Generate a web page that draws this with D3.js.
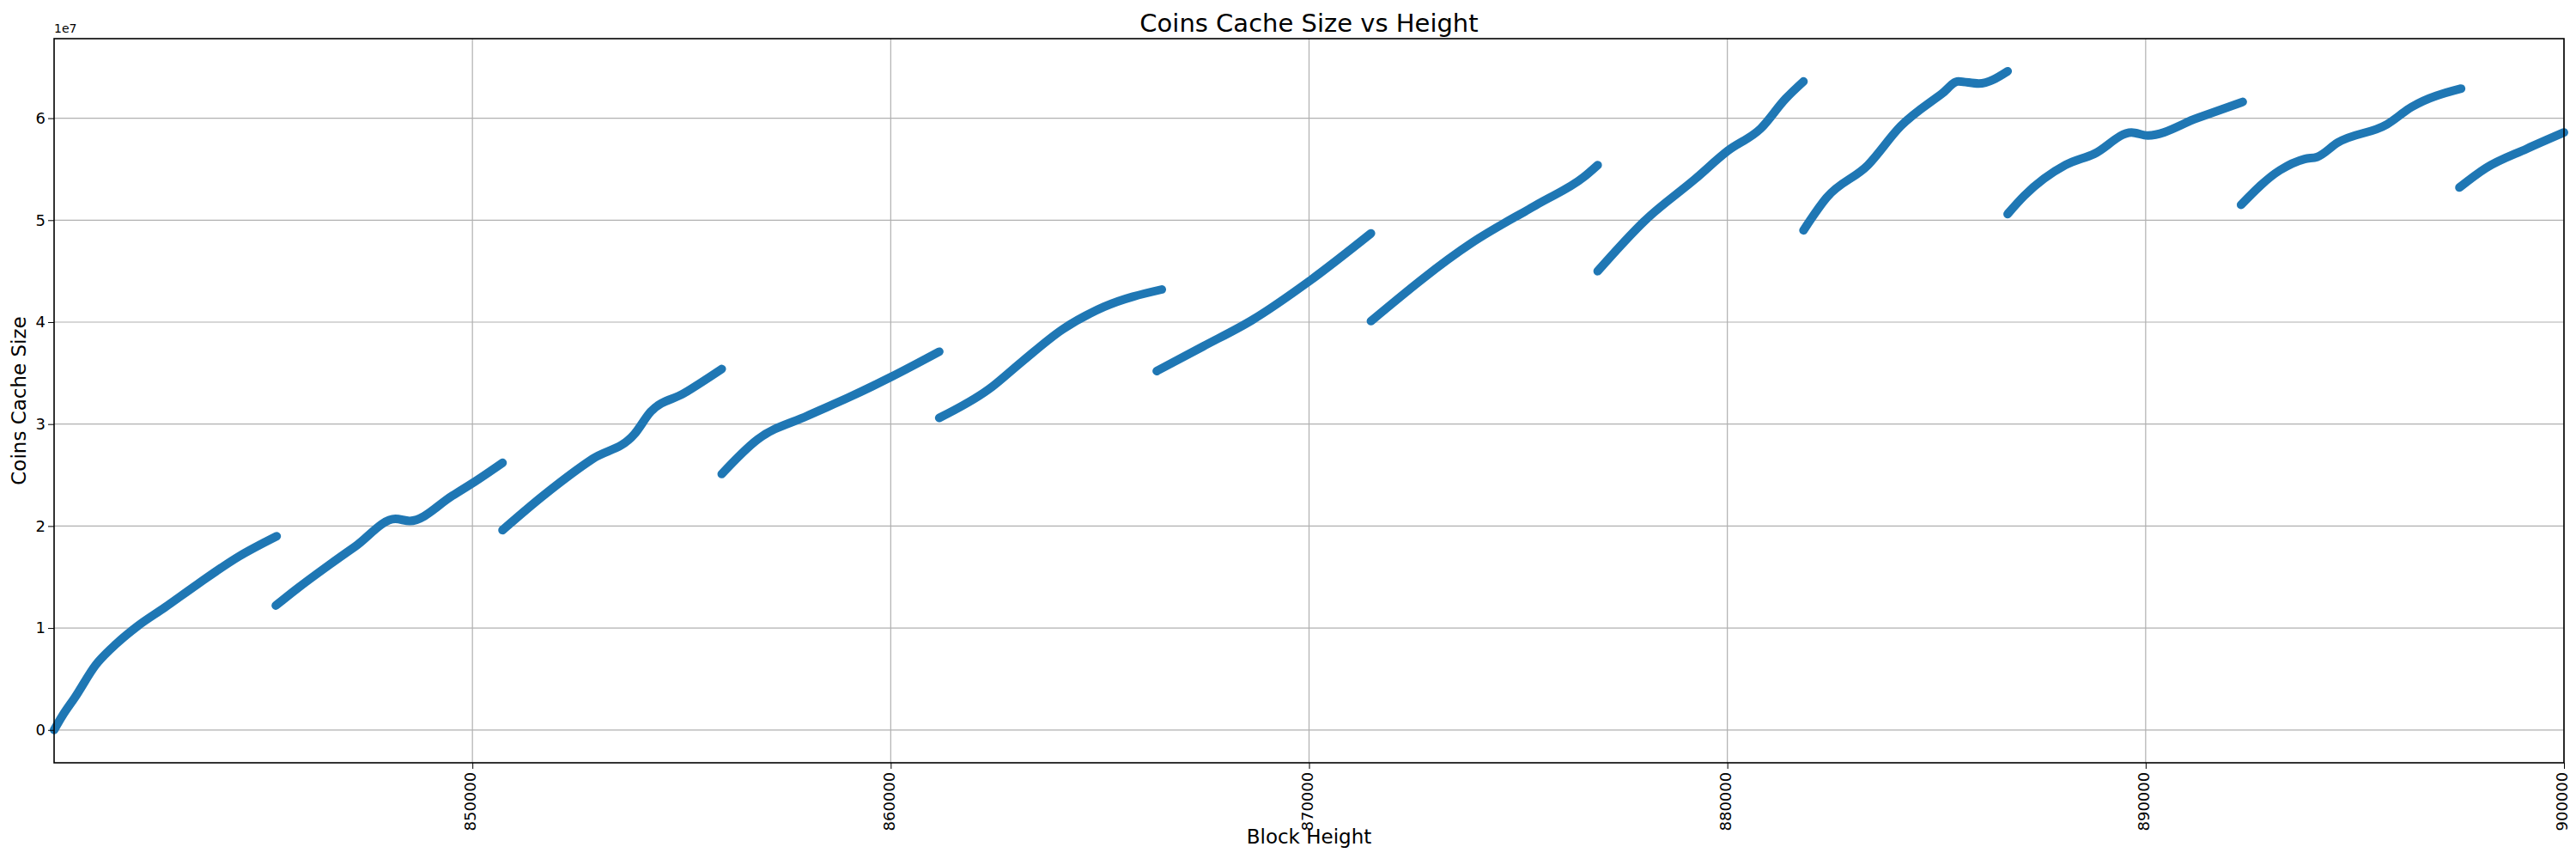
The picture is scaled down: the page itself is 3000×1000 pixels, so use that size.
<!DOCTYPE html>
<html>
<head>
<meta charset="utf-8">
<script src="https://cdn.jsdelivr.net/npm/d3@7"></script>
<style>
  body { margin: 0; background: #fff; }
  text { font-family: "DejaVu Sans", sans-serif; }
</style>
</head>
<body>
<svg id="chart" width="3000" height="1000"></svg>
<script>
// Block heights and coins cache size (in units of 1e7), one array pair per segment
const segHeights = [
  [840000, 840200, 840500, 841000, 841500, 842000, 842640, 843430, 844410, 845320],
  [845300, 845790, 846580, 847200, 848160, 848500, 849530, 850000, 850720],
  [850720, 851700, 852880, 853870, 854260, 855050, 855960],
  [855960, 856820, 858000, 858990, 860000, 861160],
  [861160, 862340, 863130, 864110, 865100, 866480],
  [866360, 867460, 868640, 870000, 871480],
  [871480, 873900, 875480, 876560, 876900],
  [876900, 878040, 879220, 880010, 880800, 881390, 881820],
  [881820, 882370, 883360, 884140, 885130, 885520, 886010, 886700],
  [886700, 887100, 888080, 888770, 889660, 890050, 891230, 892320],
  [892280, 893210, 893800, 894100, 894590, 895770, 896360, 897540],
  [897500, 898130, 899110, 900000]
];
const segValues = [
  [0.0, 0.14, 0.32, 0.64, 0.85, 1.02, 1.20, 1.43, 1.70, 1.90],
  [1.22, 1.38, 1.62, 1.80, 2.07, 2.05, 2.30, 2.42, 2.62],
  [1.96, 2.30, 2.66, 2.90, 3.12, 3.30, 3.54],
  [2.51, 2.85, 3.08, 3.26, 3.46, 3.71],
  [3.06, 3.34, 3.61, 3.93, 4.15, 4.32],
  [3.52, 3.76, 4.02, 4.40, 4.87],
  [4.01, 4.78, 5.16, 5.42, 5.54],
  [4.50, 5.00, 5.40, 5.68, 5.90, 6.19, 6.36],
  [4.90, 5.22, 5.54, 5.92, 6.24, 6.36, 6.34, 6.46],
  [5.06, 5.24, 5.54, 5.65, 5.86, 5.83, 6.00, 6.16],
  [5.15, 5.49, 5.60, 5.62, 5.76, 5.94, 6.11, 6.29],
  [5.32, 5.51, 5.70, 5.86]
];
const xTicks = [850000, 860000, 870000, 880000, 890000, 900000];
const yTicks = [0, 1, 2, 3, 4, 5, 6];

const margin = { left: 63, right: 14, top: 45, bottom: 112 };
const width = 3000, height = 1000;
const svg = d3.select('#chart');

const x = d3.scaleLinear().domain([840000, 900000]).range([margin.left, width - margin.right]);
const y = d3.scaleLinear().domain([-0.322, 6.78]).range([height - margin.bottom, margin.top]);

// grid
const grid = svg.append('g');
grid.selectAll('.vg').data(xTicks).enter().append('line')
  .attr('x1', d => x(d)).attr('x2', d => x(d))
  .attr('y1', margin.top).attr('y2', height - margin.bottom)
  .attr('stroke', '#b0b0b0').attr('stroke-width', 1.2);
grid.selectAll('.hg').data(yTicks).enter().append('line')
  .attr('y1', d => y(d)).attr('y2', d => y(d))
  .attr('x1', margin.left).attr('x2', width - margin.right)
  .attr('stroke', '#b0b0b0').attr('stroke-width', 1.2);

// data
const line = d3.line().curve(d3.curveMonotoneX).x(d => x(d[0])).y(d => y(d[1]));
segHeights.forEach((hs, i) => {
  const pts = hs.map((h, j) => [h, segValues[i][j]]);
  svg.append('path').attr('d', line(pts))
    .attr('fill', 'none').attr('stroke', '#1f77b4')
    .attr('stroke-width', 10).attr('stroke-linecap', 'round').attr('stroke-linejoin', 'round');
});

// axes
svg.append('g').attr('transform', `translate(0,${height - margin.bottom})`)
  .call(d3.axisBottom(x).tickValues(xTicks).tickFormat(d3.format('d')).tickSizeOuter(0).tickSize(7))
  .call(g => g.select('.domain').remove())
  .selectAll('text')
  .attr('font-size', 18).attr('transform', 'rotate(-90)')
  .attr('text-anchor', 'end').attr('dx', '-0.6em').attr('dy', '-0.35em');
svg.append('g').attr('transform', `translate(${margin.left},0)`)
  .call(d3.axisLeft(y).tickValues(yTicks).tickFormat(d3.format('d')).tickSize(7))
  .call(g => g.select('.domain').remove())
  .selectAll('text').attr('font-size', 18);

svg.append('rect').attr('x', margin.left).attr('y', margin.top)
  .attr('width', width - margin.left - margin.right)
  .attr('height', height - margin.top - margin.bottom)
  .attr('fill', 'none').attr('stroke', '#000').attr('stroke-width', 1.6);

svg.append('text').attr('x', margin.left).attr('y', margin.top - 7)
  .attr('font-size', 14).text('1e7');
svg.append('text').attr('x', (margin.left + width - margin.right) / 2).attr('y', 37)
  .attr('text-anchor', 'middle').attr('font-size', 29).text('Coins Cache Size vs Height');
svg.append('text').attr('x', (margin.left + width - margin.right) / 2).attr('y', 982)
  .attr('text-anchor', 'middle').attr('font-size', 23).text('Block Height');
svg.append('text').attr('transform', `translate(30,${(margin.top + height - margin.bottom) / 2}) rotate(-90)`)
  .attr('text-anchor', 'middle').attr('font-size', 23).text('Coins Cache Size');
</script>
</body>
</html>
